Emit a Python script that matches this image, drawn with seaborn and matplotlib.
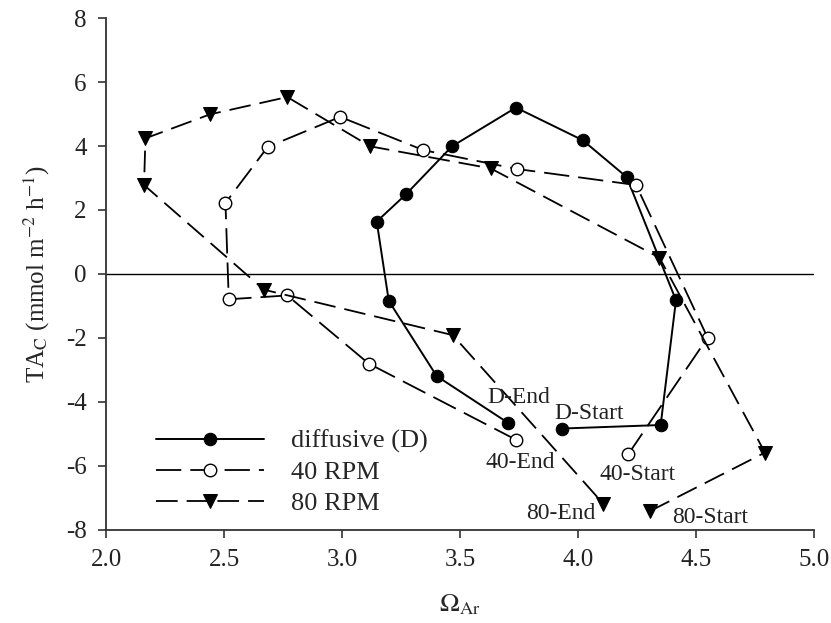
import numpy as np
import matplotlib
matplotlib.use("Agg")
import matplotlib.pyplot as plt
import seaborn as sns

# Omega_Ar vs TA_C, each series listed from start to end
d_omega = [3.93, 4.35, 4.415, 4.206, 4.02, 3.737, 3.466, 3.271, 3.147, 3.198, 3.401, 3.703]
d_tac = [-4.83, -4.72, -0.82, 3.03, 4.18, 5.20, 3.99, 2.49, 1.64, -0.84, -3.19, -4.65]

rpm40_omega = [4.212, 4.549, 4.246, 3.743, 3.345, 2.992, 2.685, 2.506, 2.52, 2.768, 3.113, 3.737]
rpm40_tac = [-5.64, -1.99, 2.78, 3.28, 3.87, 4.91, 3.97, 2.22, -0.79, -0.67, -2.80, -5.18]

rpm80_omega = [4.305, 4.792, 4.345, 3.63, 3.119, 2.768, 2.441, 2.167, 2.161, 2.669, 3.469, 4.107]
rpm80_tac = [-7.41, -5.58, 0.51, 3.30, 3.99, 5.53, 4.99, 4.24, 2.78, -0.49, -1.91, -7.18]

labels = ["D-End", "D-Start", "40-End", "40-Start", "80-End", "80-Start"]
label_x = [3.614, 3.898, 3.606, 4.089, 3.78, 4.397]
label_y = [-3.87, -4.36, -5.90, -6.28, -7.5, -7.61]

sns.set_style("ticks")
plt.rcParams["font.family"] = ["Liberation Serif", "DejaVu Serif"]
plt.rcParams["mathtext.fontset"] = "stix"
plt.rcParams["axes.unicode_minus"] = False

fig = plt.figure(figsize=(8.31, 6.23), dpi=100)
ax = fig.add_axes([0.1276, 0.1493, 0.852, 0.8218])

sns.lineplot(x=d_omega, y=d_tac, sort=False, ax=ax, color="black", lw=1.4,
             marker="o", markersize=9, markerfacecolor="black",
             markeredgecolor="black", label="diffusive (D)")
sns.lineplot(x=rpm40_omega, y=rpm40_tac, sort=False, ax=ax, color="black", lw=1.3,
             linestyle=(0, (14, 5)), marker="o", markersize=9,
             markerfacecolor="white", markeredgecolor="black",
             markeredgewidth=1.0, label="40 RPM")
sns.lineplot(x=rpm80_omega, y=rpm80_tac, sort=False, ax=ax, color="black", lw=1.3,
             linestyle=(0, (12, 5)), marker="v", markersize=10,
             markerfacecolor="black", markeredgecolor="black", label="80 RPM")

ax.axhline(0, color="black", lw=1.0, zorder=0)

for txt, lx, ly in zip(labels, label_x, label_y):
    ax.text(lx, ly, txt, fontsize=17, va="center", ha="left", color="#222222")

ax.set_xlim(2.0, 5.0)
ax.set_ylim(-8, 8)
ax.set_xticks(np.arange(2.0, 5.01, 0.5))
ax.set_xticklabels([f"{v:.1f}" for v in np.arange(2.0, 5.01, 0.5)])
ax.set_yticks(np.arange(-8, 9, 2))
ax.tick_params(labelsize=18, direction="out", length=6, width=1.2,
               color="#333333", labelcolor="#222222", pad=8)
sns.despine(ax=ax)
for sp in ["left", "bottom"]:
    ax.spines[sp].set_color("#333333")
    ax.spines[sp].set_linewidth(1.3)

ax.set_xlabel("$\\Omega_{\\mathrm{Ar}}$", fontsize=19, labelpad=15)
ax.set_ylabel("TA$_{\\mathrm{C}}$ (mmol m$^{-2}$ h$^{-1}$)", fontsize=18, labelpad=10)

ax.legend(loc="center left", bbox_to_anchor=(0.0705, 0.113), frameon=False,
          fontsize=19, handlelength=4.1, handletextpad=1.0,
          labelspacing=0.28, borderpad=0, borderaxespad=0)

fig.savefig("out.png", dpi=100)
